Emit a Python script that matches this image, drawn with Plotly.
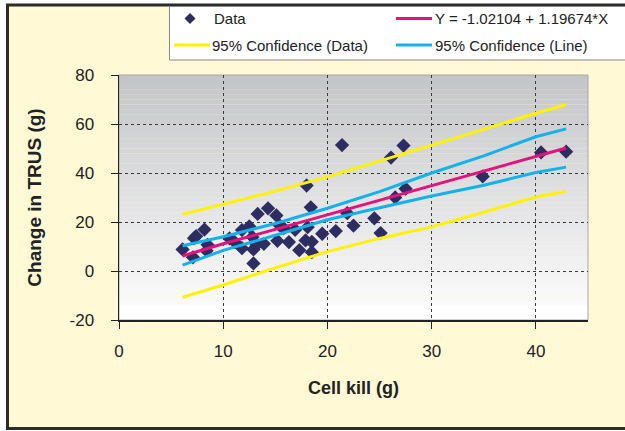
import plotly.graph_objects as go

# ---------------- data ----------------
cell_kill = [6.1, 7.1, 7.2, 7.4, 8.2, 8.5, 8.4, 10.6, 11.1, 11.8, 11.8, 12.5, 12.8,
             12.9, 12.9, 13.2, 13.3, 13.9, 14.3, 15.1, 15.4, 15.2, 15.8, 16.3, 16.9,
             17.3, 18.0, 18.1, 18.4, 17.9, 18.5, 18.5, 19.5, 20.8, 21.4, 21.9, 22.5,
             24.5, 25.1, 26.5, 26.1, 27.3, 27.5, 34.9, 40.5, 42.9]
trus_change = [8.8, 5.6, 13.4, 14.2, 16.9, 10.7, 8.3, 13.3, 11.8, 16.7, 9.3, 18.2, 13.9,
               8.8, 3.1, 10.7, 23.3, 11.1, 25.6, 22.7, 18.7, 12.3, 17.5, 11.8, 16.8,
               8.5, 34.9, 17.9, 26.0, 12.5, 11.9, 7.7, 15.2, 16.3, 51.4, 23.6, 18.5,
               21.5, 15.5, 30.0, 46.3, 51.2, 33.6, 38.6, 48.4, 48.7]

line_x = [6.1, 10, 15, 20, 25, 30, 35, 40, 42.9]
fit_y = [6.1, 11.1, 17.0, 23.0, 29.0, 34.9, 40.9, 46.9, 50.2]
ci_line_upper = [10.3, 14.0, 19.4, 25.6, 32.4, 40.0, 47.0, 54.8, 58.0]
ci_line_lower = [2.4, 8.4, 14.6, 20.9, 25.8, 30.6, 35.0, 40.2, 42.4]
ci_data_upper = [23.1, 27.2, 32.6, 38.4, 44.8, 51.4, 57.8, 64.4, 67.9]
ci_data_lower = [-10.7, -5.7, 1.3, 7.9, 13.3, 18.0, 24.0, 30.2, 32.5]

x_ticks = [0, 10, 20, 30, 40]
y_ticks = [-20, 0, 20, 40, 60, 80]
y_tick_text = ["-20", "0", "20", "40", "60", "80"]

names = ["Data", "Y = -1.02104 + 1.19674*X",
         "95% Confidence (Data)", "95% Confidence (Line)"]

# ---------------- colours ----------------
C_DATA = "#2E2D62"
C_FIT = "#E5127D"
C_PD = "#FFF200"
C_CL = "#14B1EA"

# ---------------- layout geometry ----------------
W, H = 625, 431
L, R, T, B = 119, 37, 75, 111
PW, PH = W - L - R, H - T - B

def px(xp):
    return (xp - L) / PW

def py(yp):
    return ((H - yp) - B) / PH

FONT = "Liberation Sans, Arial, sans-serif"
TXT = "#222222"

fig = go.Figure()

fig.add_trace(go.Scatter(x=cell_kill, y=trus_change, mode="markers", name=names[0],
                         marker=dict(symbol="diamond", size=11, color=C_DATA,
                                     line=dict(width=0))))
fig.add_trace(go.Scatter(x=line_x, y=fit_y, mode="lines", name=names[1],
                         line=dict(color=C_FIT, width=3)))
fig.add_trace(go.Scatter(x=line_x, y=ci_data_upper, mode="lines", name=names[2],
                         line=dict(color=C_PD, width=3)))
fig.add_trace(go.Scatter(x=line_x, y=ci_line_upper, mode="lines", name=names[3],
                         line=dict(color=C_CL, width=3)))
fig.add_trace(go.Scatter(x=line_x, y=ci_data_lower, mode="lines", name=names[2],
                         line=dict(color=C_PD, width=3)))
fig.add_trace(go.Scatter(x=line_x, y=ci_line_lower, mode="lines", name=names[3],
                         line=dict(color=C_CL, width=3)))

shapes = []
# outer frame (cream panel with dark border)
shapes.append(dict(type="rect", xref="paper", yref="paper", layer="below",
                   x0=px(7.5), x1=px(640), y0=py(428.5), y1=py(5),
                   fillcolor="#FFF9D6", line=dict(color="#2B2B2B", width=3)))
# gradient plot background
top_c = (196, 197, 200)
bot_c = (250, 250, 251)
y_top, y_bot = 80.0, -14.0
n = 47
step = (y_top - y_bot) / n
for i in range(n):
    f = i / (n - 1)
    c = tuple(round(top_c[k] + (bot_c[k] - top_c[k]) * f) for k in range(3))
    shapes.append(dict(type="rect", xref="x domain", yref="y", layer="below",
                       x0=0, x1=1, y0=y_top - (i + 1) * step - 0.05, y1=y_top - i * step,
                       fillcolor="rgb(%d,%d,%d)" % c, line=dict(width=0)))
shapes.append(dict(type="rect", xref="x domain", yref="y", layer="below",
                   x0=0, x1=1, y0=-20, y1=y_bot,
                   fillcolor="#FFFFFF", line=dict(width=0)))
# plot-area frame
shapes.append(dict(type="rect", xref="x domain", yref="y domain", layer="below",
                   x0=0, x1=1, y0=0, y1=1,
                   fillcolor="rgba(0,0,0,0)", line=dict(color="#A8A8A8", width=1)))

# ---------------- hand-built legend ----------------
shapes.append(dict(type="rect", xref="paper", yref="paper", layer="above",
                   x0=px(169.5), x1=px(640), y0=py(60), y1=py(6.5),
                   fillcolor="#FFFFFF", line=dict(color="#8A8A8A", width=1)))
ROW1, ROW2 = 18.5, 45
COL1, COL2 = 174, 396
# diamond marker sample
dx, dy = 5.5, 5.5
cx = 190
path = "M %f %f L %f %f L %f %f L %f %f Z" % (
    px(cx), py(ROW1 - dy), px(cx + dx), py(ROW1), px(cx), py(ROW1 + dy), px(cx - dx), py(ROW1))
shapes.append(dict(type="path", xref="paper", yref="paper", layer="above", path=path,
                   fillcolor=C_DATA, line=dict(width=0)))
for (x0, yrow, col) in [(COL2, ROW1, C_FIT), (COL1, ROW2, C_PD), (COL2, ROW2, C_CL)]:
    shapes.append(dict(type="line", xref="paper", yref="paper", layer="above",
                       x0=px(x0), x1=px(x0 + 36), y0=py(yrow), y1=py(yrow),
                       line=dict(color=col, width=3)))

annotations = []
for (xt, yrow, txt) in [(212, ROW1, names[0]), (433, ROW1, names[1]),
                        (210, ROW2, names[2]), (433, ROW2, names[3])]:
    annotations.append(dict(xref="paper", yref="paper", x=px(xt), y=py(yrow),
                            xanchor="left", yanchor="middle", showarrow=False,
                            text=txt, font=dict(family=FONT, size=15, color=TXT)))

fig.update_layout(
    width=W, height=H,
    margin=dict(l=L, r=R, t=T, b=B, autoexpand=False),
    paper_bgcolor="#FFFFFF",
    plot_bgcolor="rgba(0,0,0,0)",
    font=dict(family=FONT, size=17, color=TXT),
    shapes=shapes,
    annotations=annotations,
    showlegend=False,
    hovermode=False,
    xaxis=dict(range=[0, 45], tickvals=x_ticks, ticks="outside", ticklen=7,
               tickwidth=1, tickcolor="#222222",
               showline=True, linecolor="#222222", linewidth=1.5,
               showgrid=True, gridcolor="#3A3A3A", griddash="dot", gridwidth=1,
               zeroline=False, ticklabelstandoff=8,
               tickfont=dict(family=FONT, size=17, color=TXT),
               title=dict(text="<b>Cell kill (g)</b>", standoff=21,
                          font=dict(family=FONT, size=18, color=TXT)),
               automargin=False),
    yaxis=dict(range=[-20, 80], tickvals=y_ticks, ticktext=y_tick_text,
               ticks="outside", ticklen=7,
               tickwidth=1, tickcolor="#222222",
               showline=True, linecolor="#222222", linewidth=1.5,
               showgrid=True, gridcolor="#3A3A3A", griddash="dot", gridwidth=1,
               zeroline=False, ticklabelstandoff=13,
               tickfont=dict(family=FONT, size=17, color=TXT),
               title=dict(text="<b>Change in TRUS (g)</b>", standoff=23,
                          font=dict(family=FONT, size=19, color=TXT)),
               automargin=False),
)

fig.write_html("out.html",
               config={"displayModeBar": False, "staticPlot": True},
               post_script="document.body.style.margin='0';"
                           "document.body.style.overflow='hidden';")
